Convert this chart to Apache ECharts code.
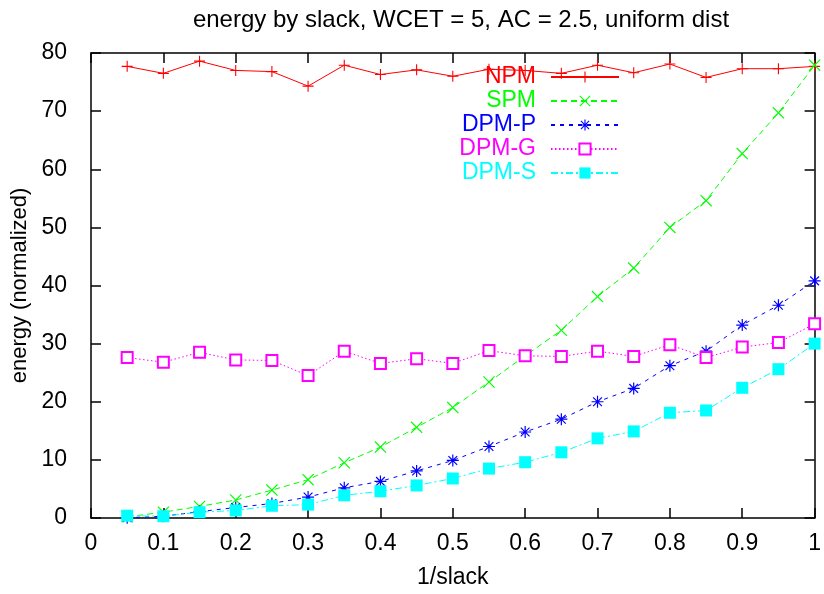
<!DOCTYPE html>
<html>
<head>
<meta charset="utf-8">
<script src="https://cdn.jsdelivr.net/npm/echarts@6/dist/echarts.min.js"></script>
<style>
  html, body { margin: 0; padding: 0; background: #fff; }
  #chart { width: 824px; height: 594px; }
</style>
</head>
<body>
<div id="chart"></div>
<script>
// data
const xs = [0.05, 0.1, 0.15, 0.2, 0.25, 0.3, 0.35, 0.4, 0.45, 0.5,
  0.55, 0.6, 0.65, 0.7, 0.75, 0.8, 0.85, 0.9, 0.95, 1.0]
const npm = [77.7, 76.5, 78.6, 77.0, 76.8, 74.3, 77.9, 76.3, 77.1, 76.0,
  77.2, 77.0, 76.5, 77.9, 76.6, 78.1, 75.8, 77.3, 77.3, 77.7]
const spm = [0.2, 1.0, 2.0, 3.1, 4.8, 6.6, 9.5, 12.2, 15.6, 19.0,
  23.4, 27.9, 32.3, 38.1, 43.0, 50.0, 54.6, 62.7, 69.7, 77.9]
const dpmP = [0.05, 0.3, 1.1, 1.8, 2.5, 3.6, 5.2, 6.3, 8.1, 9.9,
  12.3, 14.8, 17.0, 20.0, 22.3, 26.2, 28.7, 33.2, 36.6, 40.8]
const dpmG = [27.6, 26.8, 28.5, 27.2, 27.1, 24.5, 28.7, 26.6, 27.4, 26.6,
  28.8, 27.9, 27.8, 28.7, 27.8, 29.8, 27.6, 29.4, 30.2, 33.4]
const dpmS = [0.4, 0.3, 1.0, 1.3, 2.1, 2.3, 3.9, 4.6, 5.6, 6.8,
  8.5, 9.6, 11.3, 13.7, 14.9, 18.1, 18.5, 22.4, 25.6, 30.0]
const seriesNames = ['NPM', 'SPM', 'DPM-P', 'DPM-G', 'DPM-S']
const seriesColors = ['#ff0000', '#00ff00', '#0000ff', '#ff00ff', '#00ffff']

const FONT = "'Liberation Sans', Arial, sans-serif"

// gnuplot style point markers
const PLUS = 'path://M4.5,0H5.5V4.5H10V5.5H5.5V10H4.5V5.5H0V4.5H4.5Z'
const CROSS = 'path://M0,0.7L0.7,0L5,4.3L9.3,0L10,0.7L5.7,5L10,9.3L9.3,10L5,5.7L0.7,10L0,9.3L4.3,5Z'
const STAR = 'path://M4.5,0H5.5V4.5H10V5.5H5.5V10H4.5V5.5H0V4.5H4.5Z M1,1.7L1.7,1L5,4.3L8.3,1L9,1.7L5.7,5L9,8.3L8.3,9L5,5.7L1.7,9L1,8.3L4.3,5Z'

const pairs = ys => xs.map((x, i) => [x, ys[i]])

const chart = echarts.init(document.getElementById('chart'))

const axisCommon = {
  type: 'value',
  axisLine: { show: true, onZero: false, lineStyle: { color: '#000', width: 1.5 } },
  axisTick: { show: true, inside: true, length: 10, lineStyle: { color: '#000', width: 1.5 } },
  splitLine: { show: false }
}

const option = {
  backgroundColor: '#fff',
  animation: false,
  title: {
    text: 'energy by slack, WCET = 5, AC = 2.5, uniform dist',
    left: 456,
    textAlign: 'center',
    top: 3,
    textStyle: { fontFamily: FONT, fontSize: 24, fontWeight: 'normal', color: '#000' }
  },
  legend: {
    orient: 'vertical',
    align: 'right',
    right: 199,
    top: 60,
    itemWidth: 68,
    itemHeight: 14,
    itemGap: 0,
    textStyle: { fontFamily: FONT, fontSize: 23, lineHeight: 24, padding: [0, 10, 0, 0] },
    data: seriesNames.map((n, i) => ({ name: n, textStyle: { color: seriesColors[i] } }))
  },
  grid: { left: 91, right: 4, top: 53, bottom: 71 },
  xAxis: [
    Object.assign({}, axisCommon, {
      min: 0, max: 1, interval: 0.1,
      name: '1/slack',
      nameLocation: 'middle',
      nameGap: 48,
      nameTextStyle: { fontFamily: FONT, fontSize: 23, color: '#000' },
      axisLabel: { margin: 14, fontFamily: FONT, fontSize: 23, color: '#000' }
    }),
    Object.assign({}, axisCommon, {
      position: 'top',
      min: 0, max: 1, interval: 0.1,
      axisLabel: { show: false }
    })
  ],
  yAxis: [
    Object.assign({}, axisCommon, {
      min: 0, max: 80, interval: 10,
      name: 'energy (normalized)',
      nameLocation: 'middle',
      nameGap: 57,
      nameTextStyle: { fontFamily: FONT, fontSize: 22, color: '#000' },
      axisLabel: { margin: 24, fontFamily: FONT, fontSize: 23, color: '#000' }
    }),
    Object.assign({}, axisCommon, {
      position: 'right',
      min: 0, max: 80, interval: 10,
      axisLabel: { show: false }
    })
  ],
  series: [
    {
      name: 'NPM', type: 'line', data: pairs(npm), clip: false,
      symbol: PLUS, symbolSize: 11,
      itemStyle: { color: seriesColors[0] },
      lineStyle: { color: seriesColors[0], width: 1 }
    },
    {
      name: 'SPM', type: 'line', data: pairs(spm), clip: false,
      symbol: CROSS, symbolSize: 12,
      itemStyle: { color: seriesColors[1] },
      lineStyle: { color: seriesColors[1], width: 1, type: [6, 4] }
    },
    {
      name: 'DPM-P', type: 'line', data: pairs(dpmP), clip: false,
      symbol: STAR, symbolSize: 12,
      itemStyle: { color: seriesColors[2] },
      lineStyle: { color: seriesColors[2], width: 1, type: [4, 5] }
    },
    {
      name: 'DPM-G', type: 'line', data: pairs(dpmG), clip: false,
      symbol: 'emptyRect', symbolSize: 11,
      itemStyle: { color: seriesColors[3], borderWidth: 1 },
      lineStyle: { color: seriesColors[3], width: 1, type: [1.5, 2.5] }
    },
    {
      name: 'DPM-S', type: 'line', data: pairs(dpmS), clip: false,
      symbol: 'rect', symbolSize: 12,
      itemStyle: { color: seriesColors[4] },
      lineStyle: { color: seriesColors[4], width: 1, type: [7, 3, 2, 3] }
    }
  ]
}

chart.setOption(option)
window.addEventListener('resize', () => chart.resize())
</script>
</body>
</html>
